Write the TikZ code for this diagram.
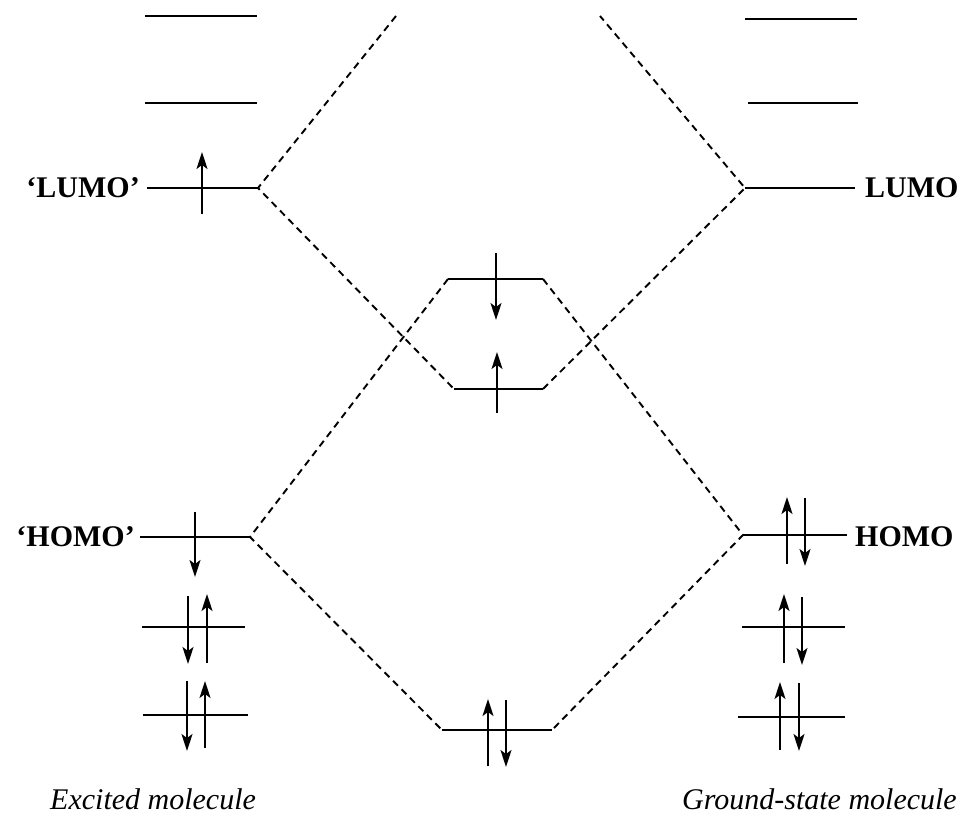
\documentclass[tikz,border=0pt]{standalone}
\usepackage{fontspec}
\setmainfont{Liberation Serif}
\usetikzlibrary{arrows.meta}
\begin{document}
\begin{tikzpicture}[x=1pt,y=-1pt,
  level/.style={line width=2pt},
  corr/.style={line width=1.9pt,dash pattern=on 7pt off 5pt},
  spin/.style={line width=1.7pt,-{Stealth[length=17pt,width=11pt,inset=4pt]}},
  lab/.style={font=\fontsize{30}{32}\selectfont\bfseries,inner sep=0pt},
  captxt/.style={font=\fontsize{30}{32}\selectfont\itshape,inner sep=0pt}]
\useasboundingbox (0,0) rectangle (961,816);
% left levels
\coordinate (l1a) at (145,16); \coordinate (l1b) at (257,16);
\coordinate (l2a) at (145,103); \coordinate (l2b) at (257,103);
\coordinate (lLa) at (147,188); \coordinate (lLb) at (258,188);
\coordinate (lHa) at (140,537); \coordinate (lHb) at (250,537);
\coordinate (l4a) at (142,627); \coordinate (l4b) at (245,627);
\coordinate (l5a) at (143,715); \coordinate (l5b) at (248,715);
% right levels
\coordinate (r1a) at (745,19); \coordinate (r1b) at (857,19);
\coordinate (r2a) at (748,103); \coordinate (r2b) at (858,103);
\coordinate (rLa) at (745,188); \coordinate (rLb) at (855,188);
\coordinate (rHa) at (743,535); \coordinate (rHb) at (847,535);
\coordinate (r4a) at (742,627); \coordinate (r4b) at (845,627);
\coordinate (r5a) at (738,717); \coordinate (r5b) at (845,717);
% centre levels
\coordinate (cUa) at (448,279); \coordinate (cUb) at (543,279);
\coordinate (cLa) at (454,389); \coordinate (cLb) at (543,389);
\coordinate (cBa) at (442,730); \coordinate (cBb) at (552,730);
% top ends
\coordinate (tL) at (396,16); \coordinate (tR) at (600,16);

\foreach \p in {l1,l2,lL,lH,l4,l5,r1,r2,rL,rH,r4,r5,cU,cL,cB}
  \draw[level] (\p a) -- (\p b);

% correlation lines
\draw[corr] (tL) -- (lLb) -- (cLa);
\draw[corr] (cLb) -- (rLa) -- (tR);
\draw[corr] (cUa) -- (lHb) -- (cBa);
\draw[corr] (cUb) -- (rHa) -- (cBb);

% spins
\draw[spin] (202,214) -- (202,152);
\draw[spin] (496,253) -- (496,320);
\draw[spin] (497,413) -- (497,352);
\draw[spin] (195,512) -- (195,577);
\draw[spin] (188,596) -- (188,664);
\draw[spin] (207,663) -- (207,594);
\draw[spin] (187,681) -- (187,751);
\draw[spin] (205,748) -- (205,681);
\draw[spin] (787,564) -- (787,497);
\draw[spin] (805,498) -- (805,566);
\draw[spin] (784,663) -- (784,594);
\draw[spin] (802,597) -- (802,665);
\draw[spin] (780,750) -- (780,682);
\draw[spin] (799,683) -- (799,751);
\draw[spin] (488,766) -- (488,699);
\draw[spin] (506,700) -- (506,767);

% labels
\node[lab,anchor=east] (tLL) at (140,188) {‘LUMO’};
\node[lab,anchor=east] (tLH) at (135,537) {‘HOMO’};
\node[lab,anchor=west] (tRL) at (865,188) {LUMO};
\node[lab,anchor=west] (tRH) at (855,537) {HOMO};
\node[captxt,anchor=base west] (cl) at (50,809) {Excited molecule};
\node[captxt,anchor=base east] (cr) at (957,809) {Ground-state molecule};
\end{tikzpicture}
\end{document}
